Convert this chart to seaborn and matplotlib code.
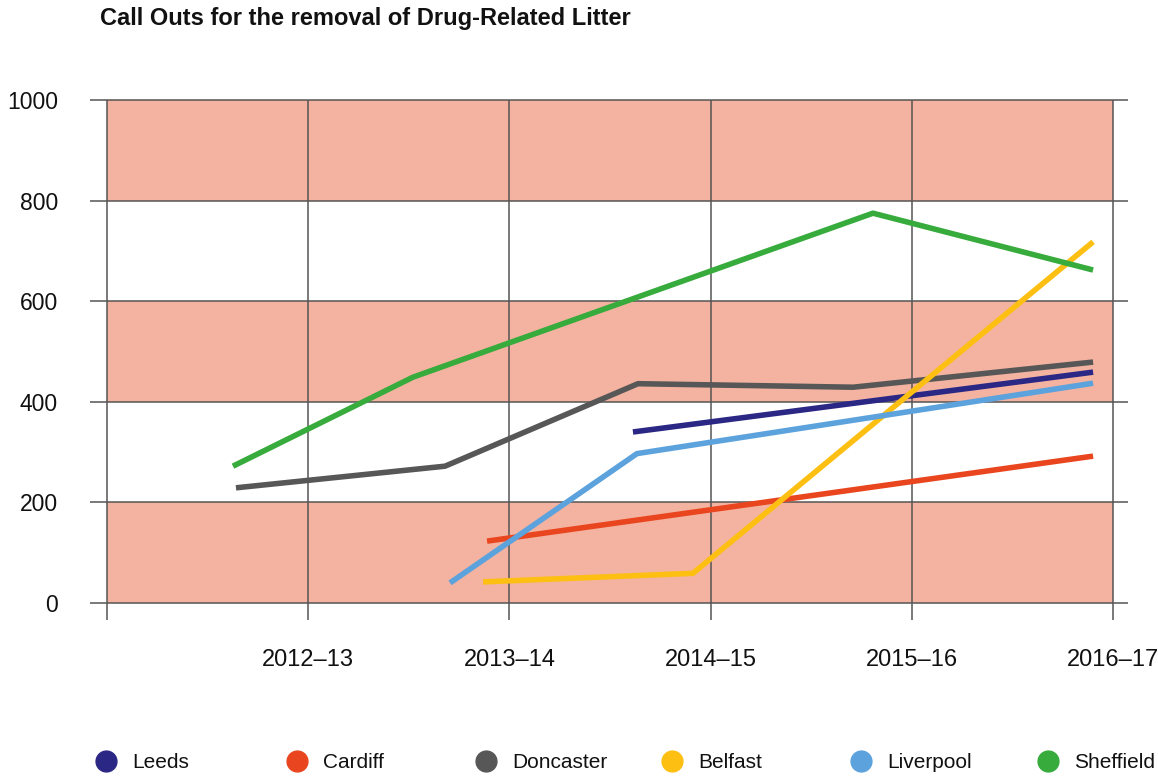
import numpy as np
import pandas as pd
import matplotlib
matplotlib.use("Agg")
import matplotlib.pyplot as plt
import seaborn as sns
from matplotlib.lines import Line2D

# ---------------- data ----------------
title = "Call Outs for the removal of Drug-Related Litter"
cities = ["Leeds", "Cardiff", "Doncaster", "Belfast", "Liverpool", "Sheffield"]
city_colors = ["#2b2784", "#e9461f", "#575757", "#fcbf12", "#5ca2dc", "#37ab3c"]
period_labels = ["2012–13", "2013–14", "2014–15", "2015–16", "2016–17"]
period_ticks = [1, 2, 3, 4, 5]
grid_x = [0, 1, 2, 3, 4, 5]
y_ticks = [0, 200, 400, 600, 800, 1000]
band_lows = [0, 400, 800]
band_highs = [200, 600, 1000]

# x positions are in period units (gridline 0 .. 5)
leeds_x = [2.614, 4.901]
leeds_y = [340, 459]
cardiff_x = [1.889, 4.901]
cardiff_y = [123, 292]
doncaster_x = [0.641, 1.680, 2.639, 3.708, 4.901]
doncaster_y = [229, 272, 436, 429, 479]
belfast_x = [1.869, 2.912, 4.901]
belfast_y = [42, 59, 718]
liverpool_x = [1.705, 2.634, 4.901]
liverpool_y = [40, 297, 437]
sheffield_x = [0.626, 1.521, 3.807, 4.901]
sheffield_y = [272, 449, 775, 662]

series_x = [leeds_x, cardiff_x, doncaster_x, belfast_x, liverpool_x, sheffield_x]
series_y = [leeds_y, cardiff_y, doncaster_y, belfast_y, liverpool_y, sheffield_y]

rows = []
for c, xs, ys in zip(cities, series_x, series_y):
    for i, (x, y) in enumerate(zip(xs, ys)):
        rows.append({"city": c, "pos": x, "value": y, "order": i})
df = pd.DataFrame(rows)
palette = dict(zip(cities, city_colors))

# ---------------- style ----------------
sns.set_theme(style="white")
plt.rcParams["font.family"] = ["Liberation Sans", "DejaVu Sans"]

W, H = 1158, 779
fig = plt.figure(figsize=(W / 100, H / 100), dpi=100)
fig.patch.set_facecolor("white")

ax = fig.add_axes([90 / W, 1 - 620 / H, 1038 / W, 522 / H])
ax.set_xlim(-0.0845, 5.0745)
ax.set_ylim(-33.8, 1004)
ax.set_facecolor("none")
for s in ax.spines.values():
    s.set_visible(False)

band_color = "#f4b3a1"
grid_color = "#555555"
for lo, hi in zip(band_lows, band_highs):
    ax.fill_between([grid_x[0], grid_x[-1]], lo, hi, color=band_color, lw=0, zorder=0)

ax.hlines(y_ticks, -0.0845, 5.0745, colors=grid_color, lw=1.1, zorder=1)
ax.vlines(grid_x, -33.8, 1000, colors=grid_color, lw=1.1, zorder=1)

sns.lineplot(data=df, x="pos", y="value", hue="city", hue_order=cities,
             palette=palette, estimator=None, sort=False, legend=False,
             lw=4.0, ax=ax, zorder=3)
for ln in ax.get_lines():
    ln.set_solid_capstyle("butt")

ax.set_xlabel("")
ax.set_ylabel("")
ax.set_xticks(period_ticks, period_labels)
ax.set_yticks(y_ticks, [str(v) for v in y_ticks])
ax.tick_params(axis="x", length=0, pad=21, labelsize=17, colors="#111111")
ax.tick_params(axis="y", length=0, pad=23, labelsize=16.5, colors="#111111")

fig.text(100 / W, 1 - 18 / H, title, ha="left", va="center",
         fontsize=17, fontweight="bold", color="#111111")

# legend: one entry per city, evenly spaced along the bottom
legend_centers = [106, 297, 486, 672, 861, 1048]
fs = 15
half_handle = fs * 0.5 * 100 / 72
for c, col, cx in zip(cities, city_colors, legend_centers):
    h = Line2D([], [], marker="o", ls="none", color=col, markersize=15)
    fig.legend(handles=[h], labels=[c], loc="center left",
               bbox_to_anchor=((cx - half_handle) / W, 1 - 763 / H),
               frameon=False, borderpad=0, borderaxespad=0,
               handlelength=1.0, handletextpad=0.75, fontsize=fs,
               labelcolor="#111111")

fig.savefig("out.png", dpi=100)
